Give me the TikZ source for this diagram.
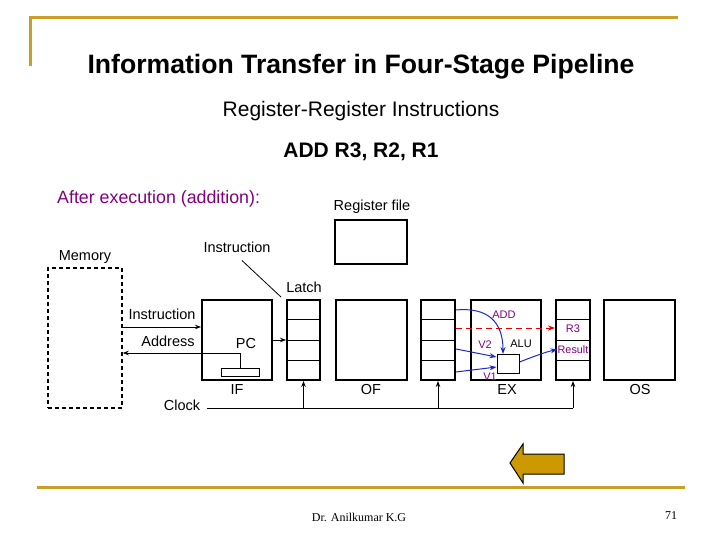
\documentclass[tikz,border=0pt]{standalone}
\usepackage{fontspec}
\setmainfont{Liberation Sans}
\newfontfamily\seriffont{Liberation Serif}
\usetikzlibrary{arrows.meta,calc}
\definecolor{gold}{RGB}{200,160,40}
\definecolor{arrowgold}{RGB}{204,153,0}
\definecolor{purp}{RGB}{128,0,128}
\definecolor{dblue}{RGB}{30,40,200}
\definecolor{dred}{RGB}{225,0,0}
\begin{document}
\begin{tikzpicture}[x=1pt,y=-1pt,
  stage/.style={draw,line width=2pt,minimum width=70pt,minimum height=80pt,inner sep=0pt},
  latchbox/.style={draw,line width=2pt,minimum width=34pt,minimum height=80pt,inner sep=0pt},
  lbl/.style={inner sep=0pt,font=\fontsize{14.5}{17}\selectfont},
  small/.style={inner sep=0pt,font=\fontsize{11}{13}\selectfont},
  arr/.style={line width=1pt,-{Stealth[length=6pt,width=4.5pt]}},
  barr/.style={line width=1pt,dblue,-{Stealth[length=7pt,width=5pt]}},
  goldline/.style={gold,line width=3pt}]
\useasboundingbox (0,0) rectangle (720,540);
% frame
\draw[goldline] (30,66) -- (30,18) coordinate (tl) -- (678,18);
\draw[goldline] (37,487) -- (685,487);
% titles
\node[inner sep=0pt,font=\fontsize{26.6}{31}\bfseries\selectfont] (title) at (361,67) {Information Transfer in Four-Stage Pipeline};
\node[inner sep=0pt,font=\fontsize{21}{25}\selectfont] (sub) at (361,111) {Register-Register Instructions};
\node[inner sep=0pt,font=\fontsize{21}{25}\bfseries\selectfont] (instr) at (361,152) {ADD R3, R2, R1};
\node[inner sep=0pt,anchor=west,purp,font=\fontsize{17.8}{21}\selectfont] (after) at (57,199) {After execution (addition):};
% memory
\node[draw,line width=1.5pt,dash pattern=on 4pt off 3pt,minimum width=74pt,minimum height=140pt,inner sep=0pt] (mem) at (85,338) {};
\node[lbl] (memlbl) at (85,257) {Memory};
% register file
\node[draw,line width=2pt,minimum width=72pt,minimum height=44pt,inner sep=0pt] (rf) at (371,242) {};
\node[lbl] (rflbl) at (372,207) {Register file};
% stages
\node[stage] (IF) at (237,340) {};
\node[stage,minimum width=71pt] (OF) at (371.5,340) {};
\node[stage] (EX) at (506,340) {};
\node[stage,minimum width=71pt] (OS) at (639.5,340) {};
\node[latchbox,minimum width=33pt] (L1) at (303.5,340) {};
\node[latchbox] (L2) at (438,340) {};
\node[latchbox] (L3) at (573,340) {};
\foreach \L in {L1,L2,L3}{
  \foreach \f in {0.25,0.5,0.75}{
    \draw[line width=1pt] ($(\L.north west)!\f!(\L.south west)$) -- ($(\L.north east)!\f!(\L.south east)$);
  }
}
% stage labels
\node[lbl] (iflbl) at (237,390) {IF};
\node[lbl] (oflbl) at (371,390) {OF};
\node[lbl] (exlbl) at (507,390) {EX};
\node[lbl] (oslbl) at (640,390) {OS};
\node[lbl] (latchlbl) at (304,287) {Latch};
\node[lbl] (instrtop) at (237,247) {Instruction};
\draw[line width=0.8pt] ($(instrtop.south)+(5,8)$) coordinate (it1) -- ($(L1.north west)+(-5,-2)$);
% IF internals
\node[draw,line width=1pt,minimum width=38pt,minimum height=8pt,inner sep=0pt] (pcr) at (240,372) {};
\node[lbl] (pclbl) at (246,344) {PC};
\node[lbl] (instrl) at (162,314) {Instruction};
\node[lbl] (addrl) at (168,341) {Address};
\draw[arr] (mem.east |- 0,327) -- (IF.west |- 0,327);
\draw[arr] (pcr.north) |- (mem.east |- 0,353);
\draw[arr] (IF.east) -- (L1.west);
% clock
\node[lbl] (clk) at (182,405) {Clock};
\coordinate (clkend) at (L3.south |- 0,408);
\draw[line width=1pt] (207,408) -- (clkend);
\foreach \L in {L1,L2,L3}{
  \draw[arr] (\L.south |- 0,408) -- (\L.south);
}
% EX internals
\node[draw,line width=1pt,minimum width=22pt,minimum height=19pt,inner sep=0pt] (alu) at (508,363.5) {};
\node[small] (alulbl) at (521,344) {ALU};
\node[small,purp] (addlbl) at (504,315) {ADD};
\node[small,purp] (v2) at (485,345) {V2};
\node[small,purp] (v1) at (490,377) {V1};
\node[small,purp] (r3) at (573,329) {R3};
\node[small,purp,font=\fontsize{10.8}{12}\selectfont] (res) at (573,349.5) {Result};
\draw[barr] (L2.east |- 0,310) .. controls (488,307) and (503,322) .. (503,354);
\draw[barr] (L2.east |- 0,349) -- (alu.west |- 0,357);
\draw[barr] (L2.east |- 0,372) -- (alu.west |- 0,367);
\draw[barr] (alu.east |- 0,362) .. controls (530,358) and (545,352) .. (res.west);
\draw[dred,line width=1pt,dash pattern=on 6pt off 4pt,-{Stealth[length=7pt,width=5pt]}] (L2.east |- 0,328) -- (L3.west |- 0,328);
% back arrow
\draw[fill=arrowgold,line width=1pt] (510,463) -- (523,444) -- (523,454) -- (564,454) -- (564,474) -- (523,474) -- (523,483) -- cycle;
% footer
\node[inner sep=0pt,font=\seriffont\fontsize{12}{14}\selectfont] (author) at (359,517) {Dr. Anilkumar K.G};
\node[inner sep=0pt,font=\seriffont\fontsize{12}{14}\selectfont] (page) at (671,516) {71};
\end{tikzpicture}
\end{document}
